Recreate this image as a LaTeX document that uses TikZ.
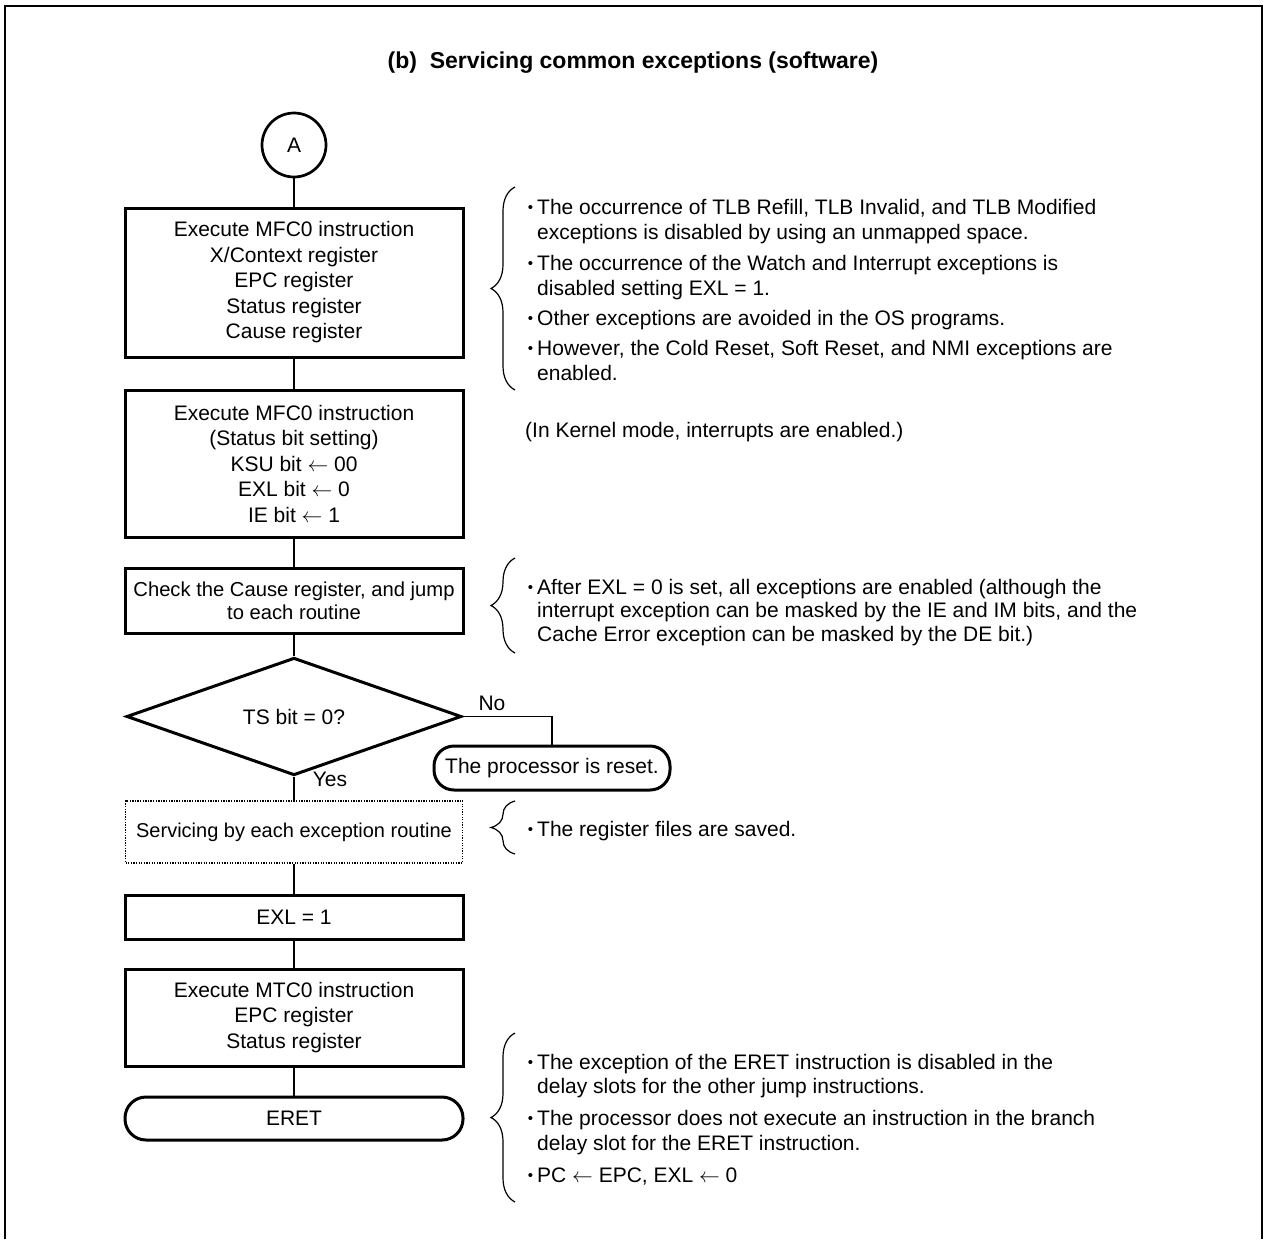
\documentclass[tikz,border=0pt]{standalone}
\usepackage{fontspec}
\setmainfont{Liberation Sans}
\usetikzlibrary{shapes.geometric,decorations.pathreplacing}
\newcommand\mybul{\llap{{\fontsize{15}{15}\selectfont\raisebox{1.2pt}{•}}\hspace{4pt}}}
\begin{document}
\begin{tikzpicture}[x=1pt,y=-1pt,
  every node/.style={font=\fontsize{21}{25.5}\selectfont, inner sep=0pt},
  box/.style={draw, line width=3pt, minimum width=338pt, align=center},
  term/.style={draw, line width=3pt, rounded corners=20pt, align=center},
  conn/.style={line width=1.3pt},
  brc/.style={line width=1.2pt, decorate, decoration={brace, amplitude=24pt}},
  txt/.style={anchor=base west},
  ]
\useasboundingbox (0,0) rectangle (1265,1239);
\draw[line width=2.5pt] (5,1239) -- (5,6) -- (1262,6) -- (1262,1239);

\node[font=\fontsize{23}{27}\selectfont\bfseries, anchor=base] (title) at (633,68) {(b)\ \ Servicing common exceptions (software)};

% flow
\node[draw, circle, line width=2.7pt, minimum size=64pt] (A) at (294,145) {A};
\node[box, minimum height=149pt] (b1) at (294,282.5) {Execute MFC0 instruction\\X/Context register\\EPC register\\Status register\\Cause register};
\node[box, minimum height=147pt] (b2) at (294,463.5) {Execute MFC0 instruction\\(Status bit setting)\\KSU bit $\leftarrow$ 00\\EXL bit $\leftarrow$ 0\\IE bit $\leftarrow$ 1};
\node[box, minimum height=65pt, font=\fontsize{20.2}{23.5}\selectfont] (b3) at (294,600.8) {Check the Cause register, and jump\\to each routine};
\node[draw, diamond, line width=3pt, minimum width=335pt, minimum height=106pt] (d) at (294,716.5) {TS bit = 0?};
\node[term, minimum width=236pt, minimum height=44pt] (reset) at (552,768) {The processor is reset.};
\node[draw, line width=1.3pt, dash pattern=on 1.3pt off 1.3pt, minimum width=337pt, minimum height=62pt, font=\fontsize{20}{24}\selectfont] (serv) at (294,832) {Servicing by each exception routine};
\node[box, minimum height=44pt] (exl) at (294,917) {EXL = 1};
\node[box, minimum height=97pt] (mtc) at (294,1017.5) {Execute MTC0 instruction\\EPC register\\Status register};
\node[term, rounded corners=21pt, minimum width=338pt, minimum height=43pt] (eret) at (294,1118.5) {ERET};

\draw[conn] (A.south) -- (b1.north);
\draw[conn] (b1.south) -- (b2.north);
\draw[conn] (b2.south) -- (b3.north);
\draw[conn] (b3.south) -- (d.north);
\draw[conn] (d.south) -- (serv.north);
\draw[conn] (serv.south) -- (exl.north);
\draw[conn] (exl.south) -- (mtc.north);
\draw[conn] (mtc.south) -- (eret.north);
\draw[conn] (d.east) -| (reset.north);

\node (no) at (492,703) {No};
\node (yes) at (330,779) {Yes};

% braces
\draw[brc] (515,390) -- (515,187);
\draw[brc] (515,653) -- (515,558);
\draw[brc] (515,854) -- (515,801);
\draw[brc] (515,1202) -- (515,1033);

% notes
\node[txt] (n1) at (537,214) {\mybul The occurrence of TLB Refill, TLB Invalid, and TLB Modified};
\node[txt] (n2) at (537,239) {exceptions is disabled by using an unmapped space.};
\node[txt] (n3) at (537,270) {\mybul The occurrence of the Watch and Interrupt exceptions is};
\node[txt] (n4) at (537,295) {disabled setting EXL = 1.};
\node[txt] (n5) at (537,325) {\mybul Other exceptions are avoided in the OS programs.};
\node[txt] (n6) at (537,355) {\mybul However, the Cold Reset, Soft Reset, and NMI exceptions are};
\node[txt] (n7) at (537,380) {enabled.};

\node[txt] (k1) at (525,437) {(In Kernel mode, interrupts are enabled.)};

\node[txt] (m1) at (537,594) {\mybul After EXL = 0 is set, all exceptions are enabled (although the};
\node[txt] (m2) at (537,617.5) {interrupt exception can be masked by the IE and IM bits, and the};
\node[txt] (m3) at (537,641) {Cache Error exception can be masked by the DE bit.)};

\node[txt] (s1) at (537,836) {\mybul The register files are saved.};

\node[txt] (e1) at (537,1069) {\mybul The exception of the ERET instruction is disabled in the};
\node[txt] (e2) at (537,1093) {delay slots for the other jump instructions.};
\node[txt] (e3) at (537,1125) {\mybul The processor does not execute an instruction in the branch};
\node[txt] (e4) at (537,1150) {delay slot for the ERET instruction.};
\node[txt] (e5) at (537,1182) {\mybul PC $\leftarrow$ EPC, EXL $\leftarrow$ 0};
\end{tikzpicture}
\end{document}
